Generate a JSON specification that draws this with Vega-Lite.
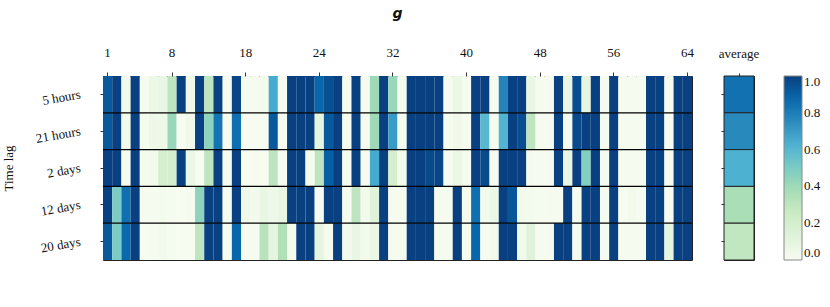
{
  "$schema": "https://vega.github.io/schema/vega-lite/v6.json",
  "padding": {"left": 2, "top": 6, "right": 2, "bottom": 2},
  "config": {
    "view": {"stroke": "#222", "strokeWidth": 1},
    "font": "Liberation Serif",
    "axis": {"labelFont": "Liberation Serif", "titleFont": "Liberation Serif", "labelFontSize": 13, "titleFontSize": 13, "titleFontWeight": "normal", "labelColor": "#111", "titleColor": "#111", "tickColor": "#333", "domain": false, "grid": false},
    "legend": {"labelFont": "Liberation Serif", "labelFontSize": 13, "labelColor": "#111", "gradientLength": 184, "gradientThickness": 18, "gradientStrokeColor": "#888", "gradientStrokeWidth": 1, "offset": 24, "labelOffset": 6}
  },
  "datasets": {
    "cells": [
{"g":1,"t":"5 hours","v":0.92},{"g":2,"t":"5 hours","v":1.0},{"g":3,"t":"5 hours","v":0.03},{"g":4,"t":"5 hours","v":1.0},{"g":5,"t":"5 hours","v":0.01},{"g":6,"t":"5 hours","v":0.06},{"g":7,"t":"5 hours","v":0.08},{"g":8,"t":"5 hours","v":0.3},{"g":9,"t":"5 hours","v":1.0},{"g":10,"t":"5 hours","v":0.04},{"g":11,"t":"5 hours","v":1.0},{"g":12,"t":"5 hours","v":0.3},{"g":13,"t":"5 hours","v":1.0},{"g":14,"t":"5 hours","v":0.01},{"g":15,"t":"5 hours","v":0.98},{"g":16,"t":"5 hours","v":0.01},{"g":17,"t":"5 hours","v":0.01},{"g":18,"t":"5 hours","v":0.02},{"g":19,"t":"5 hours","v":0.65},{"g":20,"t":"5 hours","v":0.01},{"g":21,"t":"5 hours","v":1.0},{"g":22,"t":"5 hours","v":1.0},{"g":23,"t":"5 hours","v":1.0},{"g":24,"t":"5 hours","v":0.88},{"g":25,"t":"5 hours","v":0.95},{"g":26,"t":"5 hours","v":1.0},{"g":27,"t":"5 hours","v":0.01},{"g":28,"t":"5 hours","v":1.0},{"g":29,"t":"5 hours","v":0.01},{"g":30,"t":"5 hours","v":0.4},{"g":31,"t":"5 hours","v":1.0},{"g":32,"t":"5 hours","v":0.42},{"g":33,"t":"5 hours","v":0.01},{"g":34,"t":"5 hours","v":1.0},{"g":35,"t":"5 hours","v":1.0},{"g":36,"t":"5 hours","v":1.0},{"g":37,"t":"5 hours","v":1.0},{"g":38,"t":"5 hours","v":0.01},{"g":39,"t":"5 hours","v":0.06},{"g":40,"t":"5 hours","v":0.01},{"g":41,"t":"5 hours","v":1.0},{"g":42,"t":"5 hours","v":1.0},{"g":43,"t":"5 hours","v":0.01},{"g":44,"t":"5 hours","v":0.78},{"g":45,"t":"5 hours","v":1.0},{"g":46,"t":"5 hours","v":1.0},{"g":47,"t":"5 hours","v":0.08},{"g":48,"t":"5 hours","v":0.01},{"g":49,"t":"5 hours","v":0.01},{"g":50,"t":"5 hours","v":1.0},{"g":51,"t":"5 hours","v":0.08},{"g":52,"t":"5 hours","v":0.96},{"g":53,"t":"5 hours","v":0.1},{"g":54,"t":"5 hours","v":1.0},{"g":55,"t":"5 hours","v":0.01},{"g":56,"t":"5 hours","v":1.0},{"g":57,"t":"5 hours","v":0.01},{"g":58,"t":"5 hours","v":0.01},{"g":59,"t":"5 hours","v":0.01},{"g":60,"t":"5 hours","v":1.0},{"g":61,"t":"5 hours","v":1.0},{"g":62,"t":"5 hours","v":0.01},{"g":63,"t":"5 hours","v":1.0},{"g":64,"t":"5 hours","v":1.0},
{"g":1,"t":"21 hours","v":0.92},{"g":2,"t":"21 hours","v":1.0},{"g":3,"t":"21 hours","v":0.03},{"g":4,"t":"21 hours","v":1.0},{"g":5,"t":"21 hours","v":0.01},{"g":6,"t":"21 hours","v":0.05},{"g":7,"t":"21 hours","v":0.05},{"g":8,"t":"21 hours","v":0.42},{"g":9,"t":"21 hours","v":0.005},{"g":10,"t":"21 hours","v":0.04},{"g":11,"t":"21 hours","v":1.0},{"g":12,"t":"21 hours","v":0.45},{"g":13,"t":"21 hours","v":0.83},{"g":14,"t":"21 hours","v":0.01},{"g":15,"t":"21 hours","v":0.85},{"g":16,"t":"21 hours","v":0.005},{"g":17,"t":"21 hours","v":0.005},{"g":18,"t":"21 hours","v":0.005},{"g":19,"t":"21 hours","v":0.92},{"g":20,"t":"21 hours","v":0.01},{"g":21,"t":"21 hours","v":1.0},{"g":22,"t":"21 hours","v":1.0},{"g":23,"t":"21 hours","v":1.0},{"g":24,"t":"21 hours","v":0.1},{"g":25,"t":"21 hours","v":0.92},{"g":26,"t":"21 hours","v":1.0},{"g":27,"t":"21 hours","v":0.01},{"g":28,"t":"21 hours","v":1.0},{"g":29,"t":"21 hours","v":0.01},{"g":30,"t":"21 hours","v":0.4},{"g":31,"t":"21 hours","v":1.0},{"g":32,"t":"21 hours","v":0.7},{"g":33,"t":"21 hours","v":0.01},{"g":34,"t":"21 hours","v":1.0},{"g":35,"t":"21 hours","v":1.0},{"g":36,"t":"21 hours","v":1.0},{"g":37,"t":"21 hours","v":1.0},{"g":38,"t":"21 hours","v":0.01},{"g":39,"t":"21 hours","v":0.04},{"g":40,"t":"21 hours","v":0.01},{"g":41,"t":"21 hours","v":1.0},{"g":42,"t":"21 hours","v":0.6},{"g":43,"t":"21 hours","v":0.01},{"g":44,"t":"21 hours","v":0.62},{"g":45,"t":"21 hours","v":1.0},{"g":46,"t":"21 hours","v":0.96},{"g":47,"t":"21 hours","v":0.3},{"g":48,"t":"21 hours","v":0.01},{"g":49,"t":"21 hours","v":0.01},{"g":50,"t":"21 hours","v":1.0},{"g":51,"t":"21 hours","v":0.01},{"g":52,"t":"21 hours","v":0.97},{"g":53,"t":"21 hours","v":1.0},{"g":54,"t":"21 hours","v":1.0},{"g":55,"t":"21 hours","v":0.01},{"g":56,"t":"21 hours","v":1.0},{"g":57,"t":"21 hours","v":0.01},{"g":58,"t":"21 hours","v":0.01},{"g":59,"t":"21 hours","v":0.01},{"g":60,"t":"21 hours","v":1.0},{"g":61,"t":"21 hours","v":1.0},{"g":62,"t":"21 hours","v":0.01},{"g":63,"t":"21 hours","v":1.0},{"g":64,"t":"21 hours","v":1.0},
{"g":1,"t":"2 days","v":1.0},{"g":2,"t":"2 days","v":1.0},{"g":3,"t":"2 days","v":0.01},{"g":4,"t":"2 days","v":1.0},{"g":5,"t":"2 days","v":0.01},{"g":6,"t":"2 days","v":0.03},{"g":7,"t":"2 days","v":0.2},{"g":8,"t":"2 days","v":0.2},{"g":9,"t":"2 days","v":1.0},{"g":10,"t":"2 days","v":0.06},{"g":11,"t":"2 days","v":0.005},{"g":12,"t":"2 days","v":0.3},{"g":13,"t":"2 days","v":1.0},{"g":14,"t":"2 days","v":0.01},{"g":15,"t":"2 days","v":1.0},{"g":16,"t":"2 days","v":0.005},{"g":17,"t":"2 days","v":0.01},{"g":18,"t":"2 days","v":0.005},{"g":19,"t":"2 days","v":0.3},{"g":20,"t":"2 days","v":0.01},{"g":21,"t":"2 days","v":1.0},{"g":22,"t":"2 days","v":1.0},{"g":23,"t":"2 days","v":0.01},{"g":24,"t":"2 days","v":0.3},{"g":25,"t":"2 days","v":0.9},{"g":26,"t":"2 days","v":1.0},{"g":27,"t":"2 days","v":0.01},{"g":28,"t":"2 days","v":1.0},{"g":29,"t":"2 days","v":0.01},{"g":30,"t":"2 days","v":0.65},{"g":31,"t":"2 days","v":1.0},{"g":32,"t":"2 days","v":0.2},{"g":33,"t":"2 days","v":0.03},{"g":34,"t":"2 days","v":1.0},{"g":35,"t":"2 days","v":1.0},{"g":36,"t":"2 days","v":0.97},{"g":37,"t":"2 days","v":0.98},{"g":38,"t":"2 days","v":0.01},{"g":39,"t":"2 days","v":0.06},{"g":40,"t":"2 days","v":0.01},{"g":41,"t":"2 days","v":1.0},{"g":42,"t":"2 days","v":0.97},{"g":43,"t":"2 days","v":0.01},{"g":44,"t":"2 days","v":1.0},{"g":45,"t":"2 days","v":1.0},{"g":46,"t":"2 days","v":1.0},{"g":47,"t":"2 days","v":0.01},{"g":48,"t":"2 days","v":0.01},{"g":49,"t":"2 days","v":0.01},{"g":50,"t":"2 days","v":1.0},{"g":51,"t":"2 days","v":0.08},{"g":52,"t":"2 days","v":1.0},{"g":53,"t":"2 days","v":0.48},{"g":54,"t":"2 days","v":1.0},{"g":55,"t":"2 days","v":0.01},{"g":56,"t":"2 days","v":1.0},{"g":57,"t":"2 days","v":0.01},{"g":58,"t":"2 days","v":0.01},{"g":59,"t":"2 days","v":0.01},{"g":60,"t":"2 days","v":1.0},{"g":61,"t":"2 days","v":1.0},{"g":62,"t":"2 days","v":0.01},{"g":63,"t":"2 days","v":1.0},{"g":64,"t":"2 days","v":1.0},
{"g":1,"t":"12 days","v":1.0},{"g":2,"t":"12 days","v":0.5},{"g":3,"t":"12 days","v":0.85},{"g":4,"t":"12 days","v":1.0},{"g":5,"t":"12 days","v":0.01},{"g":6,"t":"12 days","v":0.01},{"g":7,"t":"12 days","v":0.02},{"g":8,"t":"12 days","v":0.01},{"g":9,"t":"12 days","v":0.005},{"g":10,"t":"12 days","v":0.01},{"g":11,"t":"12 days","v":0.45},{"g":12,"t":"12 days","v":1.0},{"g":13,"t":"12 days","v":1.0},{"g":14,"t":"12 days","v":0.01},{"g":15,"t":"12 days","v":1.0},{"g":16,"t":"12 days","v":0.04},{"g":17,"t":"12 days","v":0.03},{"g":18,"t":"12 days","v":0.08},{"g":19,"t":"12 days","v":0.05},{"g":20,"t":"12 days","v":0.08},{"g":21,"t":"12 days","v":1.0},{"g":22,"t":"12 days","v":1.0},{"g":23,"t":"12 days","v":1.0},{"g":24,"t":"12 days","v":0.01},{"g":25,"t":"12 days","v":1.0},{"g":26,"t":"12 days","v":1.0},{"g":27,"t":"12 days","v":0.01},{"g":28,"t":"12 days","v":0.3},{"g":29,"t":"12 days","v":0.03},{"g":30,"t":"12 days","v":0.13},{"g":31,"t":"12 days","v":1.0},{"g":32,"t":"12 days","v":0.01},{"g":33,"t":"12 days","v":0.01},{"g":34,"t":"12 days","v":1.0},{"g":35,"t":"12 days","v":1.0},{"g":36,"t":"12 days","v":1.0},{"g":37,"t":"12 days","v":0.01},{"g":38,"t":"12 days","v":0.01},{"g":39,"t":"12 days","v":1.0},{"g":40,"t":"12 days","v":0.01},{"g":41,"t":"12 days","v":0.85},{"g":42,"t":"12 days","v":0.03},{"g":43,"t":"12 days","v":0.06},{"g":44,"t":"12 days","v":1.0},{"g":45,"t":"12 days","v":0.93},{"g":46,"t":"12 days","v":0.03},{"g":47,"t":"12 days","v":0.02},{"g":48,"t":"12 days","v":0.01},{"g":49,"t":"12 days","v":0.01},{"g":50,"t":"12 days","v":0.01},{"g":51,"t":"12 days","v":1.0},{"g":52,"t":"12 days","v":0.01},{"g":53,"t":"12 days","v":1.0},{"g":54,"t":"12 days","v":1.0},{"g":55,"t":"12 days","v":0.01},{"g":56,"t":"12 days","v":1.0},{"g":57,"t":"12 days","v":0.01},{"g":58,"t":"12 days","v":0.03},{"g":59,"t":"12 days","v":0.01},{"g":60,"t":"12 days","v":1.0},{"g":61,"t":"12 days","v":1.0},{"g":62,"t":"12 days","v":0.01},{"g":63,"t":"12 days","v":1.0},{"g":64,"t":"12 days","v":1.0},
{"g":1,"t":"20 days","v":0.92},{"g":2,"t":"20 days","v":0.5},{"g":3,"t":"20 days","v":0.87},{"g":4,"t":"20 days","v":1.0},{"g":5,"t":"20 days","v":0.005},{"g":6,"t":"20 days","v":0.01},{"g":7,"t":"20 days","v":0.03},{"g":8,"t":"20 days","v":0.01},{"g":9,"t":"20 days","v":0.005},{"g":10,"t":"20 days","v":0.005},{"g":11,"t":"20 days","v":0.3},{"g":12,"t":"20 days","v":1.0},{"g":13,"t":"20 days","v":1.0},{"g":14,"t":"20 days","v":0.01},{"g":15,"t":"20 days","v":0.88},{"g":16,"t":"20 days","v":0.01},{"g":17,"t":"20 days","v":0.01},{"g":18,"t":"20 days","v":0.32},{"g":19,"t":"20 days","v":0.1},{"g":20,"t":"20 days","v":0.35},{"g":21,"t":"20 days","v":0.02},{"g":22,"t":"20 days","v":1.0},{"g":23,"t":"20 days","v":1.0},{"g":24,"t":"20 days","v":0.1},{"g":25,"t":"20 days","v":0.01},{"g":26,"t":"20 days","v":1.0},{"g":27,"t":"20 days","v":0.03},{"g":28,"t":"20 days","v":0.08},{"g":29,"t":"20 days","v":0.03},{"g":30,"t":"20 days","v":0.06},{"g":31,"t":"20 days","v":1.0},{"g":32,"t":"20 days","v":0.01},{"g":33,"t":"20 days","v":0.01},{"g":34,"t":"20 days","v":1.0},{"g":35,"t":"20 days","v":1.0},{"g":36,"t":"20 days","v":1.0},{"g":37,"t":"20 days","v":0.01},{"g":38,"t":"20 days","v":0.01},{"g":39,"t":"20 days","v":1.0},{"g":40,"t":"20 days","v":0.01},{"g":41,"t":"20 days","v":0.88},{"g":42,"t":"20 days","v":0.01},{"g":43,"t":"20 days","v":0.03},{"g":44,"t":"20 days","v":1.0},{"g":45,"t":"20 days","v":1.0},{"g":46,"t":"20 days","v":0.03},{"g":47,"t":"20 days","v":0.13},{"g":48,"t":"20 days","v":0.01},{"g":49,"t":"20 days","v":0.01},{"g":50,"t":"20 days","v":1.0},{"g":51,"t":"20 days","v":1.0},{"g":52,"t":"20 days","v":0.01},{"g":53,"t":"20 days","v":1.0},{"g":54,"t":"20 days","v":1.0},{"g":55,"t":"20 days","v":0.01},{"g":56,"t":"20 days","v":1.0},{"g":57,"t":"20 days","v":0.01},{"g":58,"t":"20 days","v":0.01},{"g":59,"t":"20 days","v":0.01},{"g":60,"t":"20 days","v":1.0},{"g":61,"t":"20 days","v":1.0},{"g":62,"t":"20 days","v":0.1},{"g":63,"t":"20 days","v":1.0},{"g":64,"t":"20 days","v":1.0}
    ],
    "avg": [
      {"c":"average","t":"5 hours","v":0.84},
      {"c":"average","t":"21 hours","v":0.76},
      {"c":"average","t":"2 days","v":0.63},
      {"c":"average","t":"12 days","v":0.37},
      {"c":"average","t":"20 days","v":0.29}
    ],
    "seps": [{"t":"21 hours"},{"t":"2 days"},{"t":"12 days"},{"t":"20 days"}]
  },
  "hconcat": [
    {
      "width": 589,
      "height": 184,
      "title": {"text": "g", "font": "DejaVu Sans", "fontSize": 14, "fontWeight": "bold", "fontStyle": "italic", "color": "#111", "offset": 25, "anchor": "middle"},
      "layer": [
        {
          "data": {"name": "cells"},
          "mark": {"type": "rect"},
          "encoding": {
            "x": {"field": "g", "type": "ordinal", "sort": "ascending", "scale": {"paddingInner": 0, "paddingOuter": 0},
                  "axis": {"orient": "top", "title": null, "values": [1,8,16,24,32,40,48,56,64], "labelExpr": "datum.value == 16 ? '18' : datum.label", "labelAngle": 0, "tickSize": 4, "labelPadding": 13}},
            "y": {"field": "t", "type": "nominal", "scale": {"domain": ["5 hours","21 hours","2 days","12 days","20 days"], "paddingInner": 0, "paddingOuter": 0},
                  "axis": {"title": "Time lag", "labelAngle": -10, "tickSize": 3, "labelPadding": 20, "titlePadding": 19}},
            "color": {"field": "v", "type": "quantitative",
                      "scale": {"domain": [0,0.125,0.25,0.375,0.5,0.625,0.75,0.875,1], "range": ["#f7fcf0","#e0f3db","#ccebc5","#a8ddb5","#7bccc4","#4eb3d3","#2b8cbe","#0868ac","#084081"], "interpolate": "rgb"},
                      "legend": {"title": null, "values": [0,0.2,0.4,0.6,0.8,1], "format": ".1f", "labelFont": "Liberation Serif", "labelFontSize": 13}}
          }
        },
        {
          "data": {"name": "seps"},
          "mark": {"type": "rule", "color": "#000", "strokeWidth": 1.2},
          "encoding": {
            "y": {"field": "t", "type": "nominal", "bandPosition": 0}
          }
        }
      ]
    },
    {
      "width": 30,
      "height": 184,
      "data": {"name": "avg"},
      "mark": {"type": "rect", "stroke": "#222", "strokeWidth": 1},
      "encoding": {
        "x": {"field": "c", "type": "nominal", "scale": {"paddingInner": 0, "paddingOuter": 0}, "axis": {"orient": "top", "title": null, "labelAngle": 0, "tickSize": 3, "labelPadding": 13}},
        "y": {"field": "t", "type": "nominal", "scale": {"domain": ["5 hours","21 hours","2 days","12 days","20 days"], "paddingInner": 0, "paddingOuter": 0}, "axis": {"title": null, "labels": false, "tickSize": 3}},
        "color": {"field": "v", "type": "quantitative", "legend": {"title": null, "values": [0,0.2,0.4,0.6,0.8,1], "format": ".1f", "labelFont": "Liberation Serif", "labelFontSize": 13}}
      }
    }
  ],
  "resolve": {"scale": {"y": "independent", "x": "independent", "color": "shared"}},
  "spacing": 23
}
